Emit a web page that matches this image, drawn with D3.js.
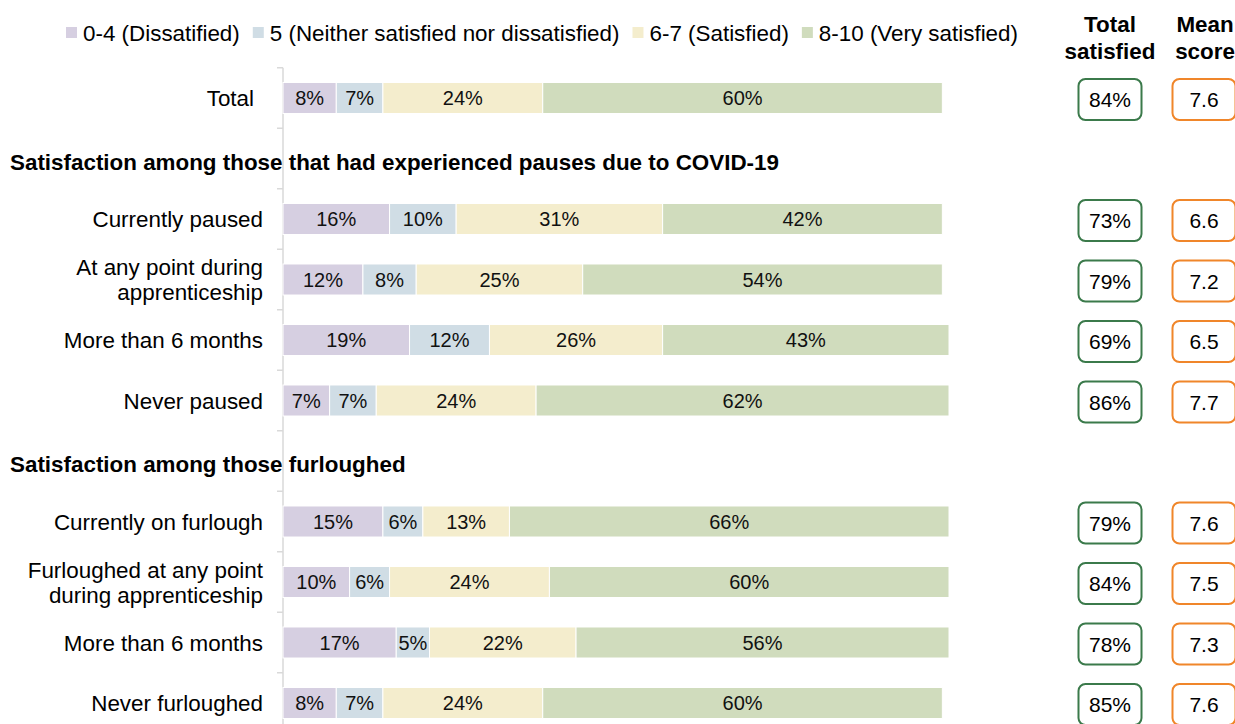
<!DOCTYPE html>
<html>
<head>
<meta charset="utf-8">
<script src="https://cdn.jsdelivr.net/npm/d3@7"></script>
<style>
  html, body { margin: 0; padding: 0; background: #fff; }
  svg { display: block; font-family: "Liberation Sans", Arial, sans-serif; }
</style>
</head>
<body>
<svg id="chart" width="1235" height="724"></svg>
<script>
// ---- data ----
const rowIds = ["total", "h1", "p_current", "p_any", "p_6m", "p_never", "h2", "f_current", "f_any", "f_6m", "f_never"];
const rowLabels = [
  "Total",
  "Satisfaction among those that had experienced pauses due to COVID-19",
  "Currently paused",
  "At any point during|apprenticeship",
  "More than 6 months",
  "Never paused",
  "Satisfaction among those furloughed",
  "Currently on furlough",
  "Furloughed at any point|during apprenticeship",
  "More than 6 months",
  "Never furloughed"
];
const headerRows = ["h1", "h2"];
const seriesNames = ["0-4 (Dissatified)", "5 (Neither satisfied nor dissatisfied)", "6-7 (Satisfied)", "8-10 (Very satisfied)"];
const dissatisfied  = [8, null, 16, 12, 19, 7, null, 15, 10, 17, 8];
const neither       = [7, null, 10, 8, 12, 7, null, 6, 6, 5, 7];
const satisfied     = [24, null, 31, 25, 26, 24, null, 13, 24, 22, 24];
const verySatisfied = [60, null, 42, 54, 43, 62, null, 66, 60, 56, 60];
const totalSatisfied = [84, null, 73, 79, 69, 86, null, 79, 84, 78, 85];
const meanScore      = [7.6, null, 6.6, 7.2, 6.5, 7.7, null, 7.6, 7.5, 7.3, 7.6];
const columnHeaders = [["Total", "satisfied"], ["Mean", "score"]];

// ---- styles ----
const colors = ["#d6cfe1", "#d0dde5", "#f4edcd", "#d0dcbd"];
const greenBox = "#3b7a4b", orangeBox = "#f0862a";
const FONT = 22.4, VAL_FONT = 20;

const svg = d3.select("#chart");
const series = [dissatisfied, neither, satisfied, verySatisfied];

const x = d3.scaleLinear().domain([0, 100]).range([283, 949]);
const y = d3.scaleBand().domain(rowIds).range([67.75, 733.25]).paddingInner(0.487).paddingOuter(0.2435);

// stacked data
const table = rowIds.map((id, i) => {
  const o = { id };
  seriesNames.forEach((s, k) => o[s] = series[k][i] || 0);
  return o;
});
const stack = d3.stack().keys(seriesNames)(table.filter(d => !headerRows.includes(d.id)));

// axis line and ticks
const step = y.step();
const bounds = d3.range(rowIds.length + 1).map(i => y(rowIds[0]) - y.paddingInner() * step / 2 + i * step);
svg.append("line").attr("x1", x(0)).attr("x2", x(0)).attr("y1", bounds[0]).attr("y2", bounds[bounds.length - 1])
  .attr("stroke", "#d9d9d9").attr("stroke-width", 1.5);
svg.selectAll(".tick").data(bounds).join("line")
  .attr("x1", x(0) - 6).attr("x2", x(0)).attr("y1", d => d).attr("y2", d => d)
  .attr("stroke", "#d9d9d9").attr("stroke-width", 1.5);

// bars
const g = svg.append("g");
stack.forEach((layer, k) => {
  g.selectAll(null).data(layer).join("rect")
    .attr("x", d => x(d[0]))
    .attr("width", d => x(d[1]) - x(d[0]))
    .attr("y", d => y(d.data.id))
    .attr("height", y.bandwidth())
    .attr("fill", colors[k])
    .attr("stroke", "#fff").attr("stroke-width", 1);
  g.selectAll(null).data(layer).join("text")
    .attr("x", d => (x(d[0]) + x(d[1])) / 2)
    .attr("y", d => y(d.data.id) + y.bandwidth() / 2)
    .attr("dy", "0.36em")
    .attr("text-anchor", "middle")
    .attr("font-size", VAL_FONT)
    .attr("fill", "#111")
    .text(d => (d[1] - d[0]) + "%");
});

// row labels
rowIds.forEach((id, i) => {
  const cy = y(id) + y.bandwidth() / 2;
  if (headerRows.includes(id)) {
    svg.append("text").attr("x", 10).attr("y", cy + 3).attr("dy", "0.36em")
      .attr("font-size", FONT).attr("font-weight", "bold").attr("fill", "#000")
      .text(rowLabels[i]);
  } else {
    const lines = rowLabels[i].split("|");
    const lh = 25;
    const ax = id === "total" ? 254 : 263;
    const t = svg.append("text").attr("text-anchor", "end").attr("font-size", FONT).attr("fill", "#000");
    lines.forEach((ln, j) => {
      t.append("tspan").attr("x", ax)
        .attr("y", cy + (j - (lines.length - 1) / 2) * lh)
        .attr("dy", "0.36em").text(ln);
    });
  }
});

// boxes
const boxCols = [
  { cx: 1110, vals: totalSatisfied, color: greenBox, fmt: v => v + "%" },
  { cx: 1204, vals: meanScore, color: orangeBox, fmt: v => v.toFixed(1) }
];
boxCols.forEach(col => {
  rowIds.forEach((id, i) => {
    const v = col.vals[i];
    if (v == null) return;
    const cy = y(id) + y.bandwidth() / 2 + 1.5;
    svg.append("rect").attr("x", col.cx - 31.5).attr("y", cy - 20.5).attr("width", 63).attr("height", 41)
      .attr("rx", 7).attr("fill", "#fff").attr("stroke", col.color).attr("stroke-width", 2);
    svg.append("text").attr("x", col.cx).attr("y", cy).attr("dy", "0.36em")
      .attr("text-anchor", "middle").attr("font-size", 21).attr("fill", "#000").text(col.fmt(v));
  });
});

// column headers
columnHeaders.forEach((lines, k) => {
  const cx = boxCols[k].cx + (k === 1 ? 1 : 0);
  const t = svg.append("text").attr("text-anchor", "middle").attr("font-size", FONT).attr("font-weight", "bold").attr("fill", "#000");
  lines.forEach((ln, j) => t.append("tspan").attr("x", cx).attr("y", 32 + j * 26.5).text(ln));
});

// legend
let lx = 66;
seriesNames.forEach((s, k) => {
  svg.append("rect").attr("x", lx).attr("y", 27).attr("width", 11).attr("height", 11).attr("fill", colors[k]);
  const t = svg.append("text").attr("x", lx + 17).attr("y", 33).attr("dy", "0.36em")
    .attr("font-size", FONT).attr("fill", "#000").text(s);
  lx = lx + 17 + t.node().getComputedTextLength() + 13;
});
</script>
</body>
</html>
